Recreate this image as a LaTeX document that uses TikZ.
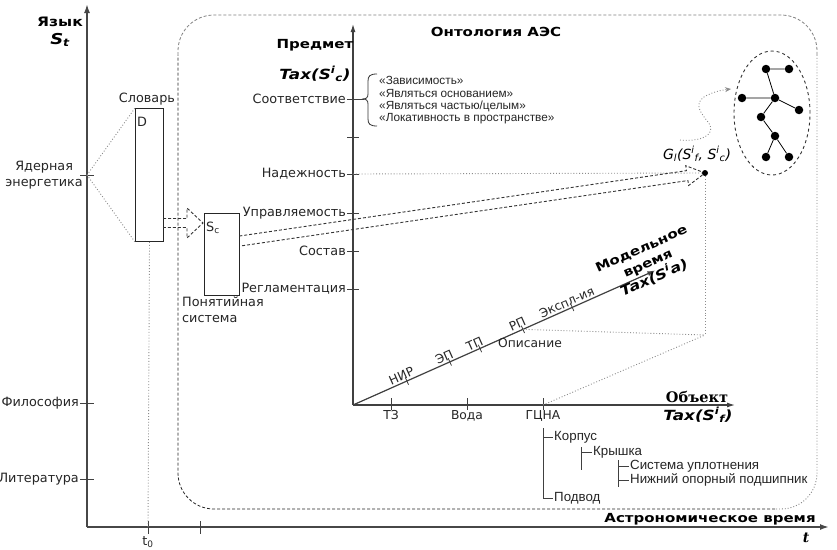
\documentclass[tikz,border=0pt]{standalone}
\usepackage{fontspec}
\setmainfont{DejaVu Sans}
\newfontfamily\lib{Liberation Sans}
\newfontfamily\dser{DejaVu Serif}
\newfontfamily\bsans[FakeStretch=1.2]{DejaVu Sans}
\usetikzlibrary{calc,arrows.meta,shapes.geometric}
\newcommand{\hollowarrow}[5]{%
  \coordinate (hb) at ($(#2)!#5!(#1)$);
  \draw[hollowarr] ($(#1)!#3!90:(#2)$) -- ($(hb)!#3!-90:(#1)$) -- ($(hb)!#4!-90:(#1)$) -- (#2)
     -- ($(hb)!#4!90:(#1)$) -- ($(hb)!#3!90:(#1)$) -- ($(#1)!#3!-90:(#2)$);}
\tikzset{
  axis/.style={line width=1.7pt, draw=black!72, -{Latex[length=9pt,width=6pt]}},
  inaxis/.style={line width=1.2pt, draw=black!75, -{Latex[length=8pt,width=5pt]}},
  tickl/.style={line width=0.8pt, draw=black!75},
  lbl/.style={font=\fontsize{12.8}{16}\selectfont, inner sep=1pt, text=black!85},
  mlbl/.style={font=\fontsize{12.3}{14}\selectfont, inner sep=1pt, text=black!85},
  small/.style={font=\lib\fontsize{11.8}{13}\selectfont, inner sep=0pt, anchor=west, text=black!85},
  tree/.style={font=\lib\fontsize{13.3}{14}\selectfont, inner sep=1pt, anchor=west, text=black!85},
  boldl/.style={font=\bsans\bfseries\fontsize{12.5}{14}\selectfont},
  taxl/.style={font=\bsans\bfseries\itshape\fontsize{14}{16}\selectfont},
  dotl/.style={draw=black!45, dotted, line width=0.9pt},
  hollowarr/.style={draw=black!80, dash pattern=on 3pt off 2pt, line width=0.9pt},
  boxn/.style={draw=black!85, line width=1pt, inner sep=0pt, anchor=north west},
  gnode/.style={circle, fill=black, inner sep=0pt, minimum size=8.5pt},
  gedge/.style={line width=0.8pt},
}
\begin{document}
\begin{tikzpicture}[x=1pt,y=-1pt]
\useasboundingbox[fill=white] (0,0) rectangle (837,549);
% ontology frame
\draw[black!85, dash pattern=on 3pt off 2pt, line width=0.8pt, rounded corners=36] (775,509) -- (178,509) -- (178,55);
\draw[black!50, dash pattern=on 3pt off 2pt, line width=0.8pt, rounded corners=36] (178,55) -- (178,15) -- (817,15) -- (817,55);
\draw[black!50, dotted, line width=0.9pt, rounded corners=36] (817,55) -- (817,509) -- (775,509);
% outer axes
\coordinate (OO) at (87,527);
\coordinate (Ytop) at (87,4);
\coordinate (Xend) at (829,527);
\draw[axis] (OO) -- (Ytop);
\draw[axis] (OO) -- (Xend);
\coordinate (tNuc) at (87,175);
\draw[tickl] (80,175) -- (94,175);
\draw[tickl] (80,403) -- (94,403);
\draw[tickl] (80,479) -- (94,479);
\coordinate (t0) at (148,527);
\draw[tickl] (148,521) -- (148,534);
\draw[tickl] (200,521) -- (200,534);
\node[lbl, anchor=east, align=center] at (84,175) {Ядерная\\энергетика};
\node[lbl, anchor=east] at (80,403) {Философия};
\node[lbl, anchor=east] at (80,479) {Литература};
\node[lbl] at (148,542) {t\textsubscript{0}};
\node[boldl, font=\bsans\bfseries\fontsize{13}{15}\selectfont] at (60,22) {Язык};
\node[font=\bsans\bfseries\itshape\fontsize{15}{17}\selectfont] at (60,40) {S\textsubscript{t}};
\node[boldl] at (710,519) {Астрономическое время};
\node[font=\dser\bfseries\itshape\fontsize{14}{16}\selectfont] at (806,538) {t};
% dictionary and concept system
\node[boxn, minimum width=28pt, minimum height=133pt] (D) at (135,108) {};
\node[boxn, minimum width=35pt, minimum height=82pt] (Sc) at (204,213) {};
\node[lbl] at (147,99) {Словарь};
\node[lbl] at (142,122) {D};
\node[lbl] at (213,228) {S\textsubscript{c}};
\node[lbl, anchor=north west, align=left] at (181,296) {Понятийная\\система};
\draw[dotl] (tNuc) -- (D.north west);
\draw[dotl] (tNuc) -- (D.south west);
\draw[dotl] (D.south) -- (t0);
\coordinate (dOut) at (163,223);
\coordinate (scIn) at (203,223);
\hollowarrow{dOut}{scIn}{4.5pt}{15pt}{16pt}
% inner axes
\coordinate (O) at (353,405);
\coordinate (Ptop) at (353,24);
\coordinate (Oend) at (735,405);
\coordinate (Mt) at ($(O)+(-24:331)$);
\draw[inaxis] (O) -- (Ptop);
\draw[inaxis] (O) -- (Oend);
\draw[inaxis] (O) -- (Mt);
\foreach \yy/\tt in {99/Соответствие,137/,174/Надежность,213/Управляемость,251/Состав,289/Регламентация}{
  \draw[tickl] (347,\yy) -- (359,\yy);
  \node[lbl, anchor=east] at (347,\yy) {\tt};
}
\foreach \xx/\tt in {391/ТЗ,467/Вода,543/ГЦНА}{
  \draw[tickl] (\xx,398) -- (\xx,410);
  \node[mlbl, anchor=north] at (\xx,409) {\tt};
}
\foreach \dd/\tt in {59/НИР,106/ЭП,139/ТП,186/РП,240/Экспл-ия}{
  \coordinate (p) at ($(O)!\dd pt!(Mt)$);
  \draw[tickl] ($(p)!4pt!90:(Mt)$) -- ($(p)!4pt!-90:(Mt)$);
  \node[mlbl, rotate=24, anchor=south, inner sep=2pt] at ($(O)!\dd pt - 3pt!(Mt)$) {\tt};
}
\coordinate (rp) at ($(O)!186pt!(Mt)$);
\coordinate (gcna) at (543,405);
\node[mlbl] at (530,343) {Описание};
\node[boldl] at (315,45) {Предмет};
\node[taxl] at (315,74) {Tax(S\textsuperscript{i}\textsubscript{c})};
\node[boldl] at (496,32) {Онтология АЭС};
\node[font=\dser\bfseries\fontsize{14.5}{16}\selectfont] at (697,397) {Объект};
\node[taxl] at (698,415) {Tax(S\textsuperscript{i}\textsubscript{f})};
\node[font=\bsans\bfseries\fontsize{12.5}{16}\selectfont, rotate=24, align=center] at (648,264) {Модельное\\время\\\itshape\fontsize{13.5}{16}\selectfont Tax(S\textsuperscript{i}a)};
% brace
\draw[line width=0.8pt, black!80] (377,74) .. controls (370,74) and (368,76) .. (368,81) -- (368,94)
  .. controls (368,98) and (366,99) .. (362,99) .. controls (366,99) and (368,100) .. (368,104)
  -- (368,119) .. controls (368,124) and (370,126) .. (377,126);
\draw[tickl] (359,99) -- (364,99);
\node[small] at (379,80) {«Зависимость»};
\node[small] at (379,93) {«Являться основанием»};
\node[small] at (379,106) {«Являться частью/целым»};
\node[small] at (379,119) {«Локативность в пространстве»};
% G point
\node[circle, fill=black, inner sep=0pt, minimum size=6pt] (G) at (705,173) {};
\node[font=\itshape\fontsize{14}{16}\selectfont] at (697,154) {G\textsubscript{l}(S\textsuperscript{i}\textsubscript{f}, S\textsuperscript{i}\textsubscript{c})};
\coordinate (nad) at (353,174);
\draw[dotl] (nad) -- (G);
\coordinate (c1) at (705,335);
\draw[dotl] (G) -- (c1);
\draw[dotl] (rp) -- (c1);
\draw[dotl] (gcna) -- (c1);
\coordinate (scOut) at (240,241);
\hollowarrow{scOut}{G}{5pt}{10pt}{18pt}
% graph
\node[ellipse, draw=black!80, dashed, line width=0.9pt, minimum width=76pt, minimum height=124pt, inner sep=0pt] (ell) at (772,113) {};
\node[gnode] (g1) at (766,69) {};
\node[gnode] (g2) at (789,69) {};
\node[gnode] (g3) at (742,98) {};
\node[gnode] (g4) at (775,98) {};
\node[gnode] (g5) at (799,110) {};
\node[gnode] (g6) at (761,117) {};
\node[gnode] (g7) at (775,136) {};
\node[gnode] (g8) at (766,157) {};
\node[gnode] (g9) at (789,157) {};
\draw[gedge] (g1) -- (g2) (g1) -- (g4) (g3) -- (g4) (g4) -- (g5) (g4) -- (g6) (g6) -- (g7) (g7) -- (g8) (g7) -- (g9);
\coordinate (sqStart) at (680,140);
\coordinate (sqEnd) at (731,89);
\draw[dotl, -{Stealth[length=6pt,width=5pt]}] (sqStart) .. controls (700,142) and (718,135) .. (708,122)
  .. controls (700,112) and (694,104) .. (704,97) .. controls (712,92) and (722,90) .. (sqEnd);
% object tree
\node[tree] (korp) at (553,437) {Корпус};
\node[tree] (kr) at (592,452) {Крышка};
\node[tree] (su) at (629,466) {Система уплотнения};
\node[tree] (nop) at (629,480) {Нижний опорный подшипник};
\node[tree] (pod) at (553,498) {Подвод};
\draw[tickl] (543,428) -- (543,499);
\draw[tickl] (543,437) -- (korp.west);
\draw[tickl] (543,498) -- (pod.west);
\draw[tickl] (581,447) -- (581,470);
\draw[tickl] (581,452) -- (kr.west);
\draw[tickl] (618,460) -- (618,487);
\draw[tickl] (618,466) -- (su.west);
\draw[tickl] (618,480) -- (nop.west);
\end{tikzpicture}
\end{document}
